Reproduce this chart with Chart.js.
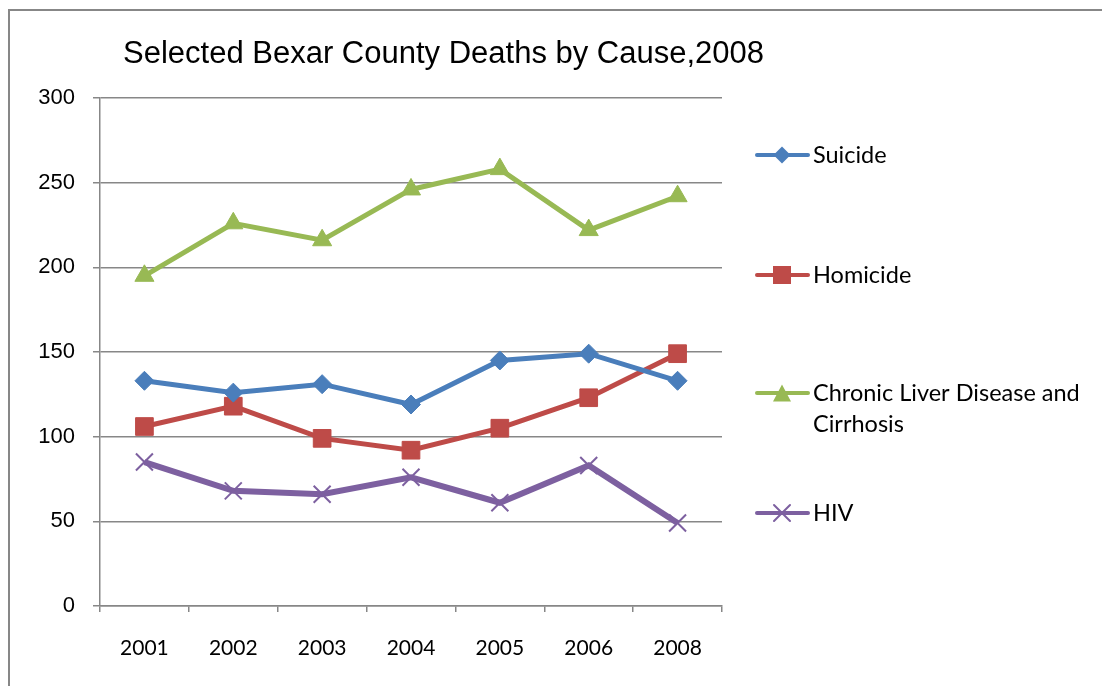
<!DOCTYPE html>
<html>
<head>
<meta charset="utf-8">
<script src="https://cdn.jsdelivr.net/npm/chart.js@4.4.1/dist/chart.umd.min.js"></script>
<style>
html,body{margin:0;padding:0;background:#fff;}
#wrap{position:relative;width:1102px;height:686px;}
</style>
</head>
<body>
<div id="wrap"><canvas id="c" width="1102" height="686"></canvas></div>
<script>
const titleText = 'Selected Bexar County Deaths by Cause,2008';
const categories = ['2001','2002','2003','2004','2005','2006','2008'];
const yTicks = [0, 50, 100, 150, 200, 250, 300];
const suicide = [133, 126, 131, 119, 145, 149, 133];
const homicide = [106, 118, 99, 92, 105, 123, 149];
const liver = [195, 226, 216, 246, 258, 222, 242];
const hiv = [85, 68, 66, 76, 61, 83, 49];
const seriesNames = ['Suicide', 'Homicide', 'Chronic Liver Disease and|Cirrhosis', 'HIV'];

const colors = ['#4A7EBB', '#BE4B48', '#98B954', '#7D60A0'];
const LAT = 'Lato, "Open Sans", sans-serif';
const ARIAL = '"Liberation Sans", Arial, sans-serif';

function drawMarker(ctx, style, x, y, color, scale) {
  ctx.save();
  ctx.fillStyle = color; ctx.strokeStyle = color;
  ctx.beginPath();
  if (style === 'diamond') {
    const r = 8.5 * scale;
    ctx.moveTo(x, y - r); ctx.lineTo(x + r, y); ctx.lineTo(x, y + r); ctx.lineTo(x - r, y); ctx.closePath(); ctx.fill();
  } else if (style === 'square') {
    const s = 9 * scale;
    ctx.rect(x - s, y - s, 2 * s, 2 * s); ctx.fill();
  } else if (style === 'triangle') {
    const w = 9 * scale, h = 8.5 * scale;
    ctx.moveTo(x, y - h); ctx.lineTo(x + w, y + h); ctx.lineTo(x - w, y + h); ctx.closePath(); ctx.fill();
  } else {
    const r = 8 * scale;
    ctx.lineWidth = 2;
    ctx.moveTo(x - r, y - r); ctx.lineTo(x + r, y + r);
    ctx.moveTo(x + r, y - r); ctx.lineTo(x - r, y + r); ctx.stroke();
  }
  ctx.restore();
}

const styles = ['diamond', 'square', 'triangle', 'cross'];

const decor = {
  id: 'decor',
  beforeDraw(chart) {
    const ctx = chart.ctx;
    ctx.save();
    ctx.fillStyle = '#fff';
    ctx.fillRect(0, 0, chart.width, chart.height);
    ctx.strokeStyle = '#878787';
    ctx.lineWidth = 2;
    ctx.beginPath();
    ctx.moveTo(9, 686); ctx.lineTo(9, 10); ctx.lineTo(1102, 10);
    ctx.stroke();
    ctx.restore();
  },
  afterDraw(chart) {
    const ctx = chart.ctx;
    ctx.save();
    ctx.fillStyle = '#000';
    ctx.font = '31px ' + ARIAL;
    ctx.textBaseline = 'alphabetic';
    ctx.textAlign = 'left';
    ctx.fillText(titleText, 123, 63);
    // legend
    const ys = [155, 275, 393, 513];
    ctx.font = '23.5px ' + LAT;
    ctx.textBaseline = 'middle';
    chart.data.datasets.forEach((ds, i) => {
      const y = ys[i];
      ctx.strokeStyle = colors[i];
      ctx.lineWidth = 4;
      ctx.lineCap = 'round';
      ctx.beginPath(); ctx.moveTo(757, y); ctx.lineTo(808, y); ctx.stroke();
      drawMarker(ctx, styles[i], 782, y, colors[i], 1);
      ctx.fillStyle = '#000';
      const parts = seriesNames[i].split('|');
      parts.forEach((p, k) => ctx.fillText(p, 813, y + k * 31));
    });
    ctx.restore();
  }
};

new Chart(document.getElementById('c'), {
  type: 'line',
  data: {
    labels: categories,
    datasets: [
      { label: 'Suicide', data: suicide, borderColor: colors[0], backgroundColor: colors[0], borderWidth: 5, pointStyle: 'rectRot', pointRadius: 9.5, pointBorderWidth: 1, tension: 0 },
      { label: 'Homicide', data: homicide, borderColor: colors[1], backgroundColor: colors[1], borderWidth: 5, pointStyle: 'rect', pointRadius: 12.5, pointBorderWidth: 1, tension: 0 },
      { label: 'Chronic Liver Disease and Cirrhosis', data: liver, borderColor: colors[2], backgroundColor: colors[2], borderWidth: 5, pointStyle: 'triangle', pointRadius: 11, pointBorderWidth: 1, tension: 0 },
      { label: 'HIV', data: hiv, borderColor: colors[3], backgroundColor: colors[3], borderWidth: 6, pointStyle: 'crossRot', pointRadius: 12, pointBorderWidth: 2, tension: 0 }
    ]
  },
  options: {
    responsive: false,
    animation: false,
    layout: { padding: { top: 98, right: 380, left: 0, bottom: 0 } },
    plugins: { legend: { display: false }, title: { display: false }, tooltip: { enabled: false } },
    scales: {
      x: {
        offset: true,
        grid: { offset: true, drawOnChartArea: false, drawTicks: true, tickLength: 6, color: '#878787', lineWidth: 1.5 },
        border: { color: '#878787', width: 1.5 },
        ticks: { color: '#000', font: { family: LAT, size: 21 }, padding: 24, maxRotation: 0 },
        afterFit(s) { s.height = 80; }
      },
      y: {
        min: 0, max: 300,
        afterBuildTicks(s) { s.ticks = yTicks.map(v => ({ value: v })); },
        grid: { color: '#878787', lineWidth: 1.5, tickLength: 7 },
        border: { color: '#878787', width: 1.5 },
        ticks: { color: '#000', font: { family: ARIAL, size: 22 }, padding: 18 },
        afterFit(s) { s.width = 100; }
      }
    }
  },
  plugins: [decor]
});
</script>
</body>
</html>
